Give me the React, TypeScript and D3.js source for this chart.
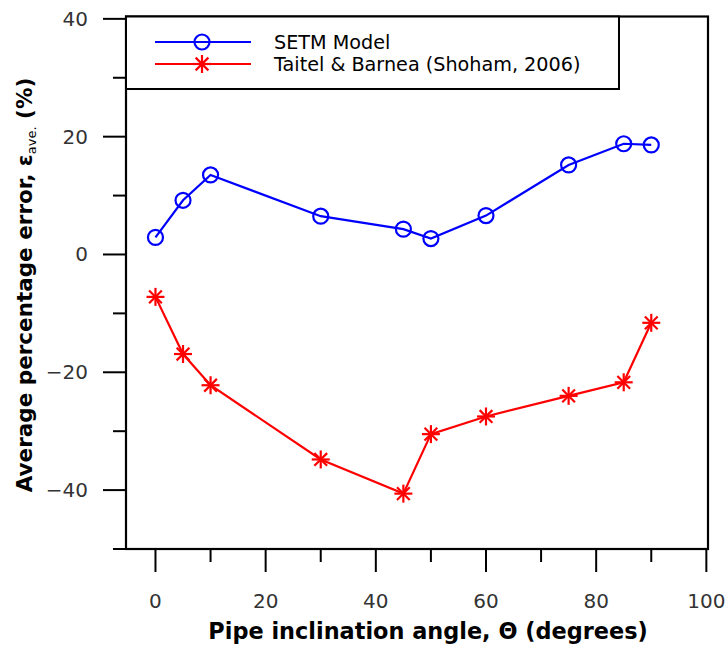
import React, { useRef, useEffect } from "react";
import * as d3 from "d3";

// inclination angles (degrees)
const angles = [0, 5, 10, 30, 45, 50, 60, 75, 85, 90];
// SETM model average error (%)
const setmError = [2.9, 9.2, 13.5, 6.5, 4.3, 2.7, 6.6, 15.2, 18.8, 18.6];
// Taitel & Barnea (Shoham, 2006) average error (%)
const taitelError = [-7.2, -16.9, -22.2, -34.8, -40.6, -30.5, -27.5, -24.0, -21.7, -11.6];

const xMajorTicks = [0, 20, 40, 60, 80, 100];
const xMinorTicks = [10, 30, 50, 70, 90];
const yMajorTicks = [40, 20, 0, -20, -40];
const yMinorTicks = [30, 10, -10, -30, -50];

const seriesNames = ["SETM Model", "Taitel & Barnea (Shoham, 2006)"];

const W = 728;
const H = 648;
const FONT = "'DejaVu Sans', sans-serif";

const App = () => {
  const svgRef = useRef(null);

  useEffect(() => {
    const svg = d3.select(svgRef.current);
    svg.selectAll("*").remove();

    const left = 126, right = 708, top = 16.5, bottom = 549;

    const x = d3.scaleLinear().domain([-5.35, 100.3]).range([left, right]);
    const y = d3.scaleLinear().domain([-50, 40.4]).range([bottom, top]);

    const g = svg.append("g");

    // curves
    const line = d3.line()
      .x(d => x(d[0]))
      .y(d => y(d[1]));

    const setmPts = angles.map((a, i) => [a, setmError[i]]);
    const taitelPts = angles.map((a, i) => [a, taitelError[i]]);

    g.append("path")
      .datum(setmPts)
      .attr("fill", "none")
      .attr("stroke", "#0000ff")
      .attr("stroke-width", 2.2)
      .attr("d", line);

    g.append("path")
      .datum(taitelPts)
      .attr("fill", "none")
      .attr("stroke", "#ff0000")
      .attr("stroke-width", 2.2)
      .attr("d", line);

    const drawCircle = (sel, cx, cy) => {
      sel.append("circle")
        .attr("cx", cx).attr("cy", cy).attr("r", 7.5)
        .attr("fill", "none")
        .attr("stroke", "#0000ff")
        .attr("stroke-width", 2.2);
    };

    const drawStar = (sel, cx, cy) => {
      const r = 9;
      const d = r * Math.SQRT1_2;
      const segs = [
        [-r, 0, r, 0],
        [0, -r, 0, r],
        [-d, -d, d, d],
        [-d, d, d, -d],
      ];
      segs.forEach(s => {
        sel.append("line")
          .attr("x1", cx + s[0]).attr("y1", cy + s[1])
          .attr("x2", cx + s[2]).attr("y2", cy + s[3])
          .attr("stroke", "#ff0000")
          .attr("stroke-width", 2.2);
      });
    };

    setmPts.forEach(p => drawCircle(g, x(p[0]), y(p[1])));
    taitelPts.forEach(p => drawStar(g, x(p[0]), y(p[1])));

    // frame
    g.append("rect")
      .attr("x", left).attr("y", top)
      .attr("width", right - left).attr("height", bottom - top)
      .attr("fill", "none")
      .attr("stroke", "#000")
      .attr("stroke-width", 2.2);

    // y ticks
    yMajorTicks.forEach(t => {
      g.append("line")
        .attr("x1", left - 23).attr("x2", left)
        .attr("y1", y(t)).attr("y2", y(t))
        .attr("stroke", "#000").attr("stroke-width", 2);
      g.append("text")
        .attr("x", left - 38).attr("y", y(t))
        .attr("text-anchor", "end")
        .attr("dominant-baseline", "central")
        .attr("font-family", FONT)
        .attr("font-size", 20)
        .attr("fill", "#333")
        .text(t < 0 ? "\u2212" + Math.abs(t) : String(t));
    });
    yMinorTicks.forEach(t => {
      g.append("line")
        .attr("x1", left - 13).attr("x2", left)
        .attr("y1", y(t)).attr("y2", y(t))
        .attr("stroke", "#000").attr("stroke-width", 2);
    });

    // x ticks
    xMajorTicks.forEach(t => {
      g.append("line")
        .attr("x1", x(t)).attr("x2", x(t))
        .attr("y1", bottom).attr("y2", bottom + 23)
        .attr("stroke", "#000").attr("stroke-width", 2);
      g.append("text")
        .attr("x", x(t)).attr("y", bottom + 52)
        .attr("text-anchor", "middle")
        .attr("dominant-baseline", "central")
        .attr("font-family", FONT)
        .attr("font-size", 20)
        .attr("fill", "#333")
        .text(String(t));
    });
    xMinorTicks.forEach(t => {
      g.append("line")
        .attr("x1", x(t)).attr("x2", x(t))
        .attr("y1", bottom).attr("y2", bottom + 13)
        .attr("stroke", "#000").attr("stroke-width", 2);
    });

    // axis titles
    g.append("text")
      .attr("x", 428).attr("y", 639)
      .attr("text-anchor", "middle")
      .attr("font-family", FONT)
      .attr("font-weight", "bold")
      .attr("font-size", 22.4)
      .attr("fill", "#000")
      .text("Pipe inclination angle, \u0398 (degrees)");

    const yt = g.append("text")
      .attr("transform", "translate(32,285) rotate(-90)")
      .attr("text-anchor", "middle")
      .attr("font-family", FONT)
      .attr("font-weight", "bold")
      .attr("font-size", 21.5)
      .attr("fill", "#000");
    yt.append("tspan").text("Average percentage error, \u03b5");
    yt.append("tspan")
      .attr("font-size", 13)
      .attr("font-weight", "normal")
      .attr("dy", 4)
      .text("ave.");
    yt.append("tspan")
      .attr("dy", -4)
      .text(" (%)");

    // legend
    const lg = g.append("g");
    lg.append("rect")
      .attr("x", left).attr("y", top)
      .attr("width", 619 - left).attr("height", 89 - top)
      .attr("fill", "#fff")
      .attr("stroke", "#000")
      .attr("stroke-width", 2);

    const rows = [42, 64];
    rows.forEach((ry, i) => {
      const color = i === 0 ? "#0000ff" : "#ff0000";
      lg.append("line")
        .attr("x1", 155).attr("x2", 251)
        .attr("y1", ry).attr("y2", ry)
        .attr("stroke", color).attr("stroke-width", 2.2);
      if (i === 0) drawCircle(lg, 202, ry);
      else drawStar(lg, 202, ry);
      lg.append("text")
        .attr("x", 274).attr("y", ry)
        .attr("dominant-baseline", "central")
        .attr("font-family", FONT)
        .attr("font-size", 19.2)
        .attr("fill", "#000")
        .text(seriesNames[i]);
    });
  }, []);

  return (
    <svg
      ref={svgRef}
      width={W}
      height={H}
      style={{ position: "absolute", left: 0, top: 0, background: "#fff" }}
    />
  );
};

export default App;
